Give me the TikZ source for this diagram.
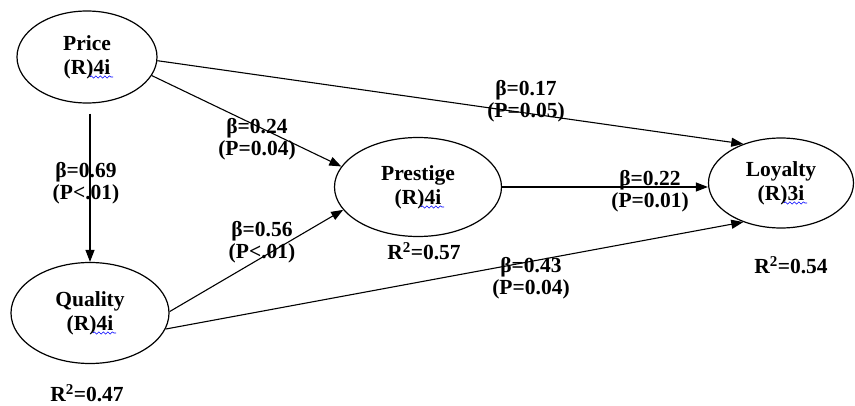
\documentclass[tikz,border=0pt]{standalone}
\usepackage{fontspec}
\setmainfont{Liberation Serif}
\usetikzlibrary{arrows.meta,shapes.geometric,decorations.pathmorphing}
\begin{document}
\begin{tikzpicture}[x=1pt,y=-1pt,
  lv/.style={ellipse,draw,line width=1.2pt,inner sep=0pt,align=center,
    font=\fontsize{21.5}{24}\selectfont\bfseries},
  pathar/.style={line width=1.1pt,-{Triangle[length=12pt,width=9pt]}},
  lbl/.style={align=center,inner sep=0pt,font=\fontsize{21.5}{22}\selectfont\bfseries},
  squig/.style={draw=blue,line width=0.6pt,decorate,
    decoration={snake,amplitude=1.1pt,segment length=4.5pt}}]
\useasboundingbox (0,0) rectangle (855,406);
% latent variables
\node[lv,minimum width=140pt,minimum height=92pt] (price) at (87,57) {Price\\(R)4i};
\node[lv,minimum width=158pt,minimum height=101pt] (quality) at (90,313) {Quality\\(R)4i};
\node[lv,minimum width=167pt,minimum height=99pt] (prestige) at (418,187) {Prestige\\(R)4i};
\node[lv,minimum width=145pt,minimum height=90pt] (loyalty) at (781,183) {Loyalty\\(R)3i};
% spell-check squiggles
\draw[squig] ([shift={(3,20)}]price.center) -- ++(23,0);
\draw[squig] ([shift={(3,20)}]quality.center) -- ++(23,0);
\draw[squig] ([shift={(3,20)}]prestige.center) -- ++(23,0);
\draw[squig] ([shift={(3,20)}]loyalty.center) -- ++(23,0);
% paths
\draw[pathar,shorten <=10pt] (quality.north |- price.south) -- (quality.north);
\draw[pathar] (price.357.5) -- (loyalty.134.3);
\draw[pathar] (price.344.4) -- (prestige.165.3);
\draw[pathar] (quality.1) -- (prestige.197.5);
\draw[pathar] (quality.348.6) -- (loyalty.226.4);
\draw[pathar] (prestige.east) -- (prestige.east -| loyalty.west);
% path labels
\node[lbl] (l1) at (86,183) {β=0.69\\(P<.01)};
\node[lbl] (l2) at (257,139) {β=0.24\\(P=0.04)};
\node[lbl] (l3) at (526,101) {β=0.17\\(P=0.05)};
\node[lbl] (l4) at (262,242) {β=0.56\\(P<.01)};
\node[lbl] (l5) at (650,191) {β=0.22\\(P=0.01)};
\node[lbl] (l6) at (531,278) {β=0.43\\(P=0.04)};
% R squared
\node[lbl] (r1) at (424,251) {R\textsuperscript{2}=0.57};
\node[lbl] (r2) at (791,265) {R\textsuperscript{2}=0.54};
\node[lbl] (r3) at (87,393) {R\textsuperscript{2}=0.47};
\end{tikzpicture}
\end{document}
